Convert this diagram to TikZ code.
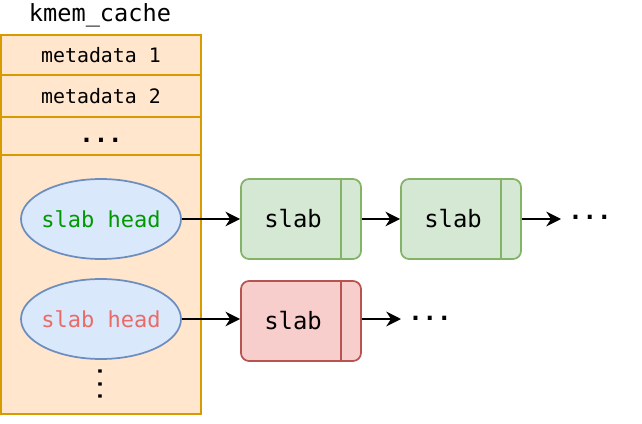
\documentclass[tikz,border=0pt]{standalone}
\usepackage{fontspec}
\setmonofont{DejaVu Sans Mono}
\usetikzlibrary{shapes.geometric, arrows.meta}
\definecolor{ofill}{HTML}{FFE6CC}
\definecolor{ostroke}{HTML}{D79B00}
\definecolor{bfill}{HTML}{DAE8FC}
\definecolor{bstroke}{HTML}{6C8EBF}
\definecolor{gfill}{HTML}{D5E8D4}
\definecolor{gstroke}{HTML}{82B366}
\definecolor{rfill}{HTML}{F8CECC}
\definecolor{rstroke}{HTML}{B85450}
\definecolor{gtext}{HTML}{009900}
\definecolor{rtext}{HTML}{EA6B66}
\begin{document}
\begin{tikzpicture}[x=0.75pt,y=-0.75pt,
  every node/.style={font=\ttfamily, inner sep=0pt},
  cellbox/.style={draw=ostroke, fill=ofill, line width=1.3pt},
  headnode/.style={ellipse, draw=bstroke, fill=bfill, line width=1.3pt, minimum width=120pt, minimum height=60pt},
  headtxt/.style={font=\ttfamily\fontsize{16.5}{19}\selectfont},
  slabbox/.style={draw, rounded corners=6pt, line width=1.3pt, minimum width=90pt, minimum height=60pt},
  slabtxt/.style={font=\ttfamily\fontsize{17.9}{21}\selectfont},
  metatxt/.style={font=\ttfamily\fontsize{14.9}{17}\selectfont},
  dotstxt/.style={font=\ttfamily\bfseries\fontsize{18}{20}\selectfont},
  arr/.style={-{Stealth[length=11pt,width=11pt,inset=3.5pt]}, line width=1.5pt}
]
\useasboundingbox (0,0) rectangle (642,424);
% kmem_cache structure
\node[font=\ttfamily\fontsize{17.7}{21}\selectfont] (title) at (100,15) {kmem\_cache};
\draw[cellbox] (1,155) rectangle (201,414);
\draw[cellbox] (1,35) rectangle (201,75);
\draw[cellbox] (1,75) rectangle (201,117);
\draw[cellbox] (1,117) rectangle (201,155);
\node[metatxt] (m1) at (101,55) {metadata 1};
\node[metatxt] (m2) at (101,96) {metadata 2};
\node[dotstxt] (m3) at (101,140) {...};
% slab heads
\node[headnode] (h1) at (101,219) {};
\node[headtxt, text=gtext] (h1t) at (h1.center) {slab head};
\node[headnode] (h2) at (101,319) {};
\node[headtxt, text=rtext] (h2t) at (h2.center) {slab head};
\node[font=\ttfamily\bfseries\fontsize{15}{17}\selectfont, rotate=90] (vd) at (100,384) {...};
% slabs
\node[slabbox, draw=gstroke, fill=gfill] (s1) at (301,219) {};
\draw[gstroke, line width=1.3pt] (341,179) -- (341,259);
\node[slabtxt] (s1t) at (293,219) {slab};
\node[slabbox, draw=gstroke, fill=gfill] (s2) at (461,219) {};
\draw[gstroke, line width=1.3pt] (501,179) -- (501,259);
\node[slabtxt] (s2t) at (453,219) {slab};
\node[slabbox, draw=rstroke, fill=rfill] (s3) at (301,321) {};
\draw[rstroke, line width=1.3pt] (341,281) -- (341,361);
\node[slabtxt] (s3t) at (293,321) {slab};
% trailing dots
\coordinate (e1) at (561,219);
\coordinate (e2) at (401,319);
\node[dotstxt, anchor=west] (d1) at (568,217) {...};
\node[dotstxt, anchor=west] (d2) at (408,318) {...};
% arrows
\draw[arr] (h1.east) -- (s1.west);
\draw[arr] (s1.east) -- (s2.west);
\draw[arr] (s2.east) -- (e1);
\draw[arr] (h2.east) -- (s3.west |- h2.east);
\draw[arr] (s3.east |- h2.east) -- (e2);
\end{tikzpicture}
\end{document}
